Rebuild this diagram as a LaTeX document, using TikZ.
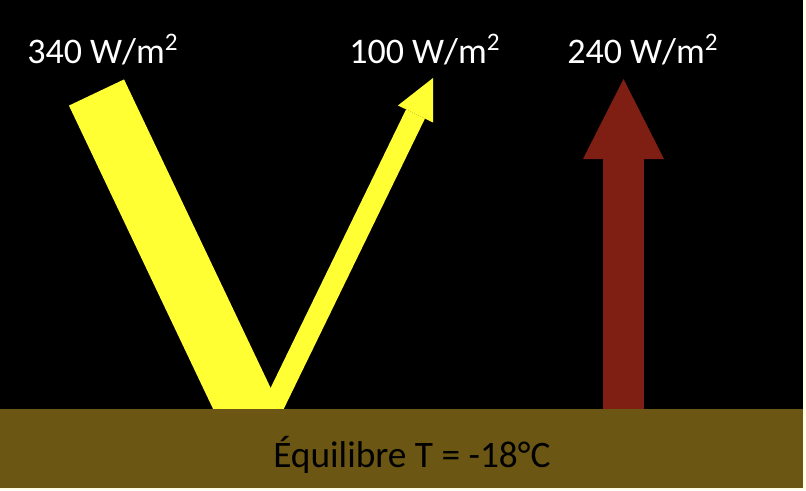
\documentclass[tikz,border=0pt]{standalone}
\usepackage{fontspec}
\setmainfont{Carlito}
\usetikzlibrary{arrows.meta}
\definecolor{sunyellow}{HTML}{FFFF33}
\definecolor{irred}{HTML}{7F1E12}
\definecolor{soil}{HTML}{6B5614}
\begin{document}
\begin{tikzpicture}[x=0.75pt,y=-0.75pt,
    flux/.style={text=white,font=\fontsize{27}{31}\selectfont,anchor=base west,inner sep=0pt}]
    \useasboundingbox (0,0) rectangle (806,490);
    \fill[white!90!yellow] (0,0) rectangle (806,490);
    \fill[black] (0,0) rectangle (803,488);
    % incoming sunlight
    \coordinate (sun) at (96.5,92.5);
    \coordinate (hit) at (261.6,440);
    \draw[sunyellow, line width=45.75pt] (sun) -- (hit);
    % reflected part
    \coordinate (foot) at (261.8,430);
    \coordinate (refl) at (433,78);
    \draw[-{Triangle[width=29.25pt,length=30pt,line width=0pt]}, sunyellow, line width=15.75pt] (foot) -- (refl);
    % emitted infrared
    \coordinate (base) at (623.5,430);
    \coordinate (ir) at (623.5,79);
    \draw[-{Triangle[width=60.75pt,length=60pt,line width=0pt]}, irred, line width=30.75pt] (base) -- (ir);
    % ground
    \fill[soil] (0,409) rectangle (803,488);
    \node[flux] (in) at (27,63) {340 W/m\textsuperscript{2}};
    \node[flux] (out) at (349,63) {100 W/m\textsuperscript{2}};
    \node[flux] (emit) at (567,63) {240 W/m\textsuperscript{2}};
    \node[anchor=base west, inner sep=0pt, font=\fontsize{28}{34}\selectfont] (eq) at (273,467) {Équilibre T = -18°C};
\end{tikzpicture}
\end{document}
